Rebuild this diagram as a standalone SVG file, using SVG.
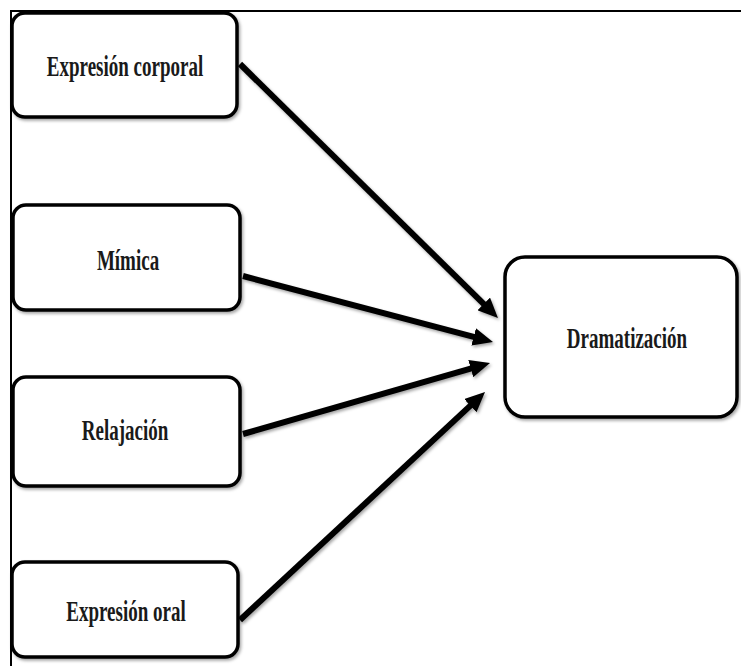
<svg xmlns="http://www.w3.org/2000/svg" width="741" height="666" viewBox="0 0 741 666">
<style>
  .box { fill: #ffffff; stroke: #000000; stroke-width: 3.5; filter: url(#sh); }
  .lbl { font-family: "Liberation Serif", "Times New Roman", serif; font-weight: bold; font-size: 19px; fill: #1a1a1a; text-anchor: middle; }
  .arr { stroke: #000000; stroke-width: 6; fill: none; marker-end: url(#ah); filter: url(#sh); }
  .frame { stroke: #000000; stroke-width: 2; fill: none; }
</style>
<defs>
  <marker id="ah" markerUnits="userSpaceOnUse" markerWidth="20" markerHeight="18" refX="7" refY="9" orient="auto">
    <path d="M0,0 L20,9 L0,18 z" fill="#000000"/>
  </marker>
  <filter id="sh" x="-10%" y="-10%" width="130%" height="130%">
    <feDropShadow dx="1.5" dy="2" stdDeviation="1.5" flood-color="#000000" flood-opacity="0.35"/>
  </filter>
</defs>
<rect x="0" y="0" width="741" height="666" fill="#ffffff"/>
<path class="frame" d="M11,666 L11,11 L741,11"/>
<g id="connectors">
  <line class="arr" x1="240" y1="64" x2="488.7" y2="308.9"/>
  <line class="arr" x1="243" y1="276" x2="480.4" y2="338.7"/>
  <line class="arr" x1="243" y1="434" x2="477.5" y2="366.6"/>
  <line class="arr" x1="240" y1="620" x2="475.5" y2="400.9"/>
</g>
<g id="n1">
  <rect class="box" x="12" y="13" width="225" height="104" rx="13"/>
  <text class="lbl" transform="translate(125,76) scale(1,1.5)">Expresión corporal</text>
</g>
<g id="n2">
  <rect class="box" x="13" y="205" width="227" height="105" rx="13"/>
  <text class="lbl" transform="translate(128,270) scale(1,1.5)">Mímica</text>
</g>
<g id="n3">
  <rect class="box" x="13" y="377" width="227" height="109" rx="13"/>
  <text class="lbl" transform="translate(125,440) scale(1,1.5)">Relajación</text>
</g>
<g id="n4">
  <rect class="box" x="12" y="562" width="226" height="95" rx="13"/>
  <text class="lbl" transform="translate(126,621) scale(1,1.5)">Expresión oral</text>
</g>
<g id="n5">
  <rect class="box" x="505" y="257" width="232" height="160" rx="20"/>
  <text class="lbl" transform="translate(627,348) scale(1,1.5)">Dramatización</text>
</g>
</svg>
